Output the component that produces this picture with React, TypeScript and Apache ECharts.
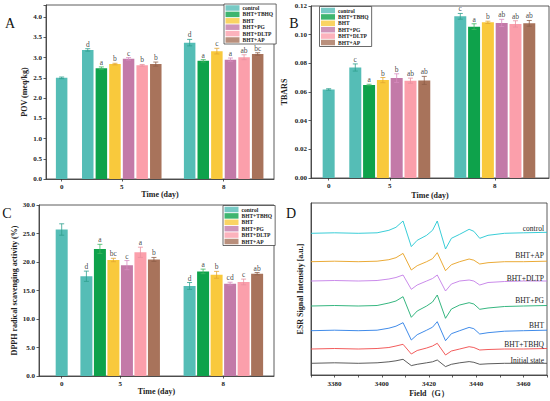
import React, { useEffect, useRef } from 'react';
import * as echarts from 'echarts';

const treatments = ['control', 'BHT+TBHQ', 'BHT', 'BHT+PG', 'BHT+DLTP', 'BHT+AP'];
const dayLabels = ['0', '5', '8'];
const barColors = ['#55bdb6', '#0ea24b', '#f9c93c', '#c37aa8', '#fb9fab', '#a8735b'];
const errColors = ['#2f9f8e', '#3fb862', '#e2a634', '#d88dc0', '#e9909f', '#8f6049'];

// POV (meq/kg)
const pov0 = [2.5];
const pov5 = [3.19, 2.74, 2.84, 2.97, 2.81, 2.84];
const pov8 = [3.37, 2.92, 3.16, 2.95, 3.01, 3.09];
const povErr0 = [0.02];
const povErr5 = [0.03, 0.03, 0.02, 0.03, 0.02, 0.05];
const povErr8 = [0.08, 0.03, 0.07, 0.04, 0.06, 0.03];
const povLet5 = ['d', 'a', 'b', 'c', 'b', 'b'];
const povLet8 = ['d', 'a', 'c', 'a', 'ab', 'bc'];

// TBARS
const tb0 = [0.0618];
const tb5 = [0.0771, 0.0649, 0.0683, 0.0697, 0.0679, 0.0681];
const tb8 = [0.1128, 0.1056, 0.1086, 0.1082, 0.1075, 0.1079];
const tbErr0 = [0.0005];
const tbErr5 = [0.0025, 0.0005, 0.0018, 0.003, 0.0018, 0.0028];
const tbErr8 = [0.002, 0.002, 0.0008, 0.0025, 0.0022, 0.002];
const tbLet5 = ['c', 'a', 'b', 'b', 'ab', 'ab'];
const tbLet8 = ['c', 'a', 'b', 'ab', 'ab', 'ab'];

// DPPH radical scavenging activity (%)
const dp0 = [25.7];
const dp5 = [17.5, 22.3, 20.35, 19.45, 21.7, 20.45];
const dp8 = [15.8, 18.35, 17.75, 16.2, 16.5, 17.95];
const dpErr0 = [1.0];
const dpErr5 = [0.9, 0.8, 0.3, 0.8, 0.9, 0.35];
const dpErr8 = [0.6, 0.4, 0.6, 0.25, 0.5, 0.2];
const dpLet5 = ['d', 'a', 'bc', 'c', 'a', 'b'];
const dpLet8 = ['d', 'a', 'b', 'cd', 'c', 'ab'];

// ESR spectra (field in G, intensity in a.u. with vertical offsets)
const esrField = [3370, 3380, 3390, 3398, 3403, 3406, 3409, 3412.5, 3415, 3419, 3421.5, 3423.5, 3427, 3429.5, 3433, 3437, 3439, 3441.5, 3445, 3452, 3460, 3470];
const esrControl = [141.7, 142.2, 141.7, 142.2, 144.7, 147.7, 154.0, 128.4, 134.7, 139.7, 144.7, 154.0, 126.0, 136.7, 140.7, 145.7, 143.7, 136.7, 139.7, 141.7, 142.2, 142.7];
const esrAP = [113.3, 113.8, 113.3, 113.8, 115.3, 117.3, 121.6, 105.0, 109.3, 113.3, 116.3, 122.3, 104.3, 110.3, 113.3, 116.0, 114.8, 111.0, 112.3, 113.3, 113.3, 113.8];
const esrDLTP = [94.0, 94.5, 94.0, 94.5, 96.0, 97.5, 100.0, 85.7, 90.0, 94.0, 96.5, 100.0, 84.0, 91.0, 94.0, 95.0, 94.0, 90.0, 92.5, 93.5, 94.0, 94.0];
const esrPG = [69.0, 69.5, 69.0, 69.5, 72.0, 74.0, 78.3, 57.7, 64.0, 69.0, 73.0, 80.0, 56.7, 66.0, 70.0, 72.3, 71.0, 65.7, 67.0, 68.5, 69.0, 69.5];
const esrBHT = [44.3, 44.8, 44.3, 44.8, 46.8, 48.8, 52.3, 35.0, 40.3, 44.8, 47.8, 53.3, 34.3, 41.3, 44.3, 47.6, 46.3, 41.0, 42.3, 43.8, 44.3, 44.8];
const esrTBHQ = [26.0, 26.5, 26.0, 26.5, 27.5, 29.0, 30.7, 21.0, 24.5, 27.0, 29.0, 31.7, 20.0, 24.0, 26.0, 28.3, 27.5, 25.0, 25.5, 26.0, 26.0, 26.5];
const esrInitial = [11.7, 12.2, 11.7, 12.2, 13.2, 14.2, 15.7, 9.4, 10.7, 12.2, 13.2, 15.0, 8.4, 10.7, 12.2, 13.4, 12.7, 10.7, 11.2, 11.7, 11.7, 11.7];
const esrNames = ['control', 'BHT+AP', 'BHT+DLTP', 'BHT+PG', 'BHT', 'BHT+TBHQ', 'Initial state'];
const esrColors = ['#22c7d3', '#e8a020', '#c47ee8', '#1fae72', '#2a7ee6', '#f04a4a', '#4a4a4a'];
const esrLabelY = [228.3, 255, 278.3, 300, 325, 344, 360];

const SERIF = '"Liberation Serif", "Times New Roman", serif';

const panels = [
  {
    grid: { left: 46, top: 5, width: 228, height: 174 },
    xMax: 16.76, centers: [1.15, 5.57, 13.06], barWidth: 11.5,
    yMax: 4.3, interval: 0.5, dec: 1, yName: 'POV (meq/kg)', yGap: 18, xGap: 10,
    v0: pov0, v5: pov5, v8: pov8, e0: povErr0, e5: povErr5, e8: povErr8, l5: povLet5, l8: povLet8,
    legend: { left: 224, top: 4 },
  },
  {
    grid: { left: 311, top: 6, width: 238, height: 172 },
    xMax: 17.25, centers: [1.28, 5.71, 13.32], barWidth: 12,
    yMax: 0.12, interval: 0.02, dec: 2, yName: 'TBARS', yGap: 23, xGap: 13,
    v0: tb0, v5: tb5, v8: tb8, e0: tbErr0, e5: tbErr5, e8: tbErr8, l5: tbLet5, l8: tbLet8,
    legend: { left: 319.5, top: 6.5 },
  },
  {
    grid: { left: 39, top: 205, width: 235, height: 171 },
    xMax: 17.4, centers: [1.68, 6.01, 13.65], barWidth: 12,
    yMax: 30, interval: 5, dec: 1, yName: 'DPPH radical scavenging activity (%)', yGap: 15, xGap: 11,
    v0: dp0, v5: dp5, v8: dp8, e0: dpErr0, e5: dpErr5, e8: dpErr8, l5: dpLet5, l8: dpLet8,
    legend: { left: 223, top: 205.5 },
  },
];

const axisColor = '#333';
const labelFont = { fontFamily: SERIF, fontWeight: 'bold' as const, fontSize: 7, color: '#222' };
const nameFont = { fontFamily: SERIF, fontWeight: 'bold' as const, fontSize: 8, color: '#222' };

function buildOption() {
  const grids: any[] = [];
  const xAxes: any[] = [];
  const yAxes: any[] = [];
  const series: any[] = [];
  const legends: any[] = [];

  // dummy series for legends
  treatments.forEach((t, i) => {
    series.push({ type: 'scatter', name: t, xAxisIndex: 0, yAxisIndex: 0, data: [], itemStyle: { color: barColors[i] } });
  });

  panels.forEach((p, k) => {
    grids.push({ ...p.grid, show: true, borderColor: axisColor, borderWidth: 0.8, containLabel: false });
    xAxes.push({
      type: 'value', gridIndex: k, min: 0, max: p.xMax,
      name: 'Time (day)', nameLocation: 'middle', nameGap: p.xGap, nameTextStyle: nameFont,
      axisLine: { show: true, lineStyle: { color: axisColor, width: 0.8 } },
      splitLine: { show: false },
      axisTick: { show: true, customValues: p.centers, length: 2.5, lineStyle: { color: axisColor, width: 0.8 } },
      axisLabel: {
        ...labelFont, margin: 4, customValues: p.centers,
        formatter: (v: number) => {
          const idx = p.centers.findIndex((c) => Math.abs(c - v) < 1e-6);
          return idx >= 0 ? dayLabels[idx] : '';
        },
      },
    });
    yAxes.push({
      type: 'value', gridIndex: k, min: 0, max: p.yMax, interval: p.interval,
      name: p.yName, nameLocation: 'middle', nameGap: p.yGap, nameTextStyle: nameFont,
      axisLine: { show: true, lineStyle: { color: axisColor, width: 0.8 } },
      splitLine: { show: false },
      axisTick: { show: true, length: 2.5, lineStyle: { color: axisColor, width: 0.8 } },
      axisLabel: {
        ...labelFont, margin: 4,
        formatter: (v: number) => {
          const r = v / p.interval;
          return Math.abs(r - Math.round(r)) < 1e-6 ? v.toFixed(p.dec) : '';
        },
      },
    });

    const barItems: any[] = [];
    const errItems: any[] = [];
    const errCol: string[] = [];
    const letterItems: any[] = [];
    p.v0.forEach((v, i) => {
      const x = p.centers[0];
      barItems.push({ value: [x, v], itemStyle: { color: barColors[i] } });
      errItems.push([x, v, p.e0[i]]);
      errCol.push(errColors[i]);
    });
    [[p.v5, p.e5, p.l5, p.centers[1]], [p.v8, p.e8, p.l8, p.centers[2]]].forEach(([vals, errs, lets, c]: any) => {
      (vals as number[]).forEach((v, i) => {
        const x = (c as number) + (i - 2.5);
        const e = (errs as number[])[i];
        barItems.push({ value: [x, v], itemStyle: { color: barColors[i] } });
        errItems.push([x, v, e]);
        errCol.push(errColors[i]);
        letterItems.push({ value: [x, v + e], name: (lets as string[])[i] });
      });
    });

    series.push({
      type: 'bar', xAxisIndex: k, yAxisIndex: k, barWidth: p.barWidth, data: barItems, silent: true,
    });
    series.push({
      type: 'custom', xAxisIndex: k, yAxisIndex: k, data: errItems, silent: true, z: 5,
      encode: { x: 0, y: 1 },
      renderItem: (params: any, api: any) => {
        const x = api.value(0), y = api.value(1), e = api.value(2);
        const top = api.coord([x, y + e]);
        const bot = api.coord([x, y - e]);
        const i = params.dataIndex;
        const stroke = errCol[i];
        const ls = { stroke, lineWidth: 0.8, fill: 'none' };
        return {
          type: 'group',
          children: [
            { type: 'line', shape: { x1: top[0], y1: top[1], x2: bot[0], y2: bot[1] }, style: ls },
            { type: 'line', shape: { x1: top[0] - 2.5, y1: top[1], x2: top[0] + 2.5, y2: top[1] }, style: ls },
            { type: 'line', shape: { x1: bot[0] - 2.5, y1: bot[1], x2: bot[0] + 2.5, y2: bot[1] }, style: ls },
          ],
        };
      },
    });
    series.push({
      type: 'scatter', xAxisIndex: k, yAxisIndex: k, data: letterItems, silent: true, z: 6,
      symbol: 'circle', symbolSize: 0.01, itemStyle: { color: 'rgba(0,0,0,0)' },
      label: {
        show: true, position: 'top', distance: 0.5, formatter: (prm: any) => prm.name,
        color: '#111', fontFamily: SERIF, fontSize: 7.5, fontWeight: 'normal',
      },
    });

    legends.push({
      ...p.legend, orient: 'vertical', data: treatments, icon: 'rect',
      itemWidth: 14, itemHeight: 5.5, itemGap: 0.4,
      padding: [1, 3, 1, 1.5], borderColor: '#444', borderWidth: 0.8, backgroundColor: '#fff',
      selectedMode: false,
      textStyle: { fontFamily: SERIF, fontWeight: 'bold', fontSize: 5.5, color: '#222', lineHeight: 6, padding: [0, 0, 0, -2] },
    });
  });

  // Panel D
  const kd = 3;
  grids.push({ left: 311, top: 203, width: 236, height: 172, show: true, borderColor: axisColor, borderWidth: 0.8 });
  xAxes.push({
    type: 'value', gridIndex: kd, min: 3370, max: 3470, interval: 10,
    name: 'Field（G）', nameLocation: 'middle', nameGap: 14, nameTextStyle: nameFont,
    axisLine: { show: true, lineStyle: { color: axisColor, width: 0.8 } },
    splitLine: { show: false },
    axisTick: { show: true, length: 2.5, lineStyle: { color: axisColor, width: 0.8 } },
    axisLabel: { ...labelFont, margin: 5, formatter: (v: number) => (v % 20 === 0 ? String(v) : '') },
  });
  yAxes.push({
    type: 'value', gridIndex: kd, min: 0, max: 172,
    name: 'ESR Signal Intensity [a.u.]', nameLocation: 'middle', nameGap: 7, nameTextStyle: nameFont,
    axisLine: { show: true, lineStyle: { color: axisColor, width: 0.8 } },
    splitLine: { show: false }, axisTick: { show: false }, axisLabel: { show: false },
  });
  const esrSets = [esrControl, esrAP, esrDLTP, esrPG, esrBHT, esrTBHQ, esrInitial];
  esrSets.forEach((arr, i) => {
    series.push({
      type: 'line', name: 'ESR ' + esrNames[i], xAxisIndex: kd, yAxisIndex: kd, showSymbol: false, symbol: 'none',
      silent: true, lineStyle: { color: esrColors[i], width: 0.9 },
      data: esrField.map((f, j) => [f, arr[j]]),
    });
  });

  const textStyle = (text: string, size: number) => ({
    text, font: `${size}px ${SERIF}`, fill: '#111', align: 'center', verticalAlign: 'middle',
  });
  const graphic: any[] = [
    { type: 'text', x: 10, y: 23, style: textStyle('A', 14), silent: true },
    { type: 'text', x: 294, y: 23, style: textStyle('B', 14), silent: true },
    { type: 'text', x: 7, y: 213, style: textStyle('C', 14), silent: true },
    { type: 'text', x: 291, y: 213, style: textStyle('D', 14), silent: true },
  ];
  esrNames.forEach((n, i) => {
    graphic.push({
      type: 'text', x: 544, y: esrLabelY[i], silent: true, z: 10,
      style: { text: n, font: `7.5px ${SERIF}`, fill: '#222', align: 'right', verticalAlign: 'middle' },
    });
  });

  return {
    animation: false,
    backgroundColor: '#fff',
    grid: grids,
    xAxis: xAxes,
    yAxis: yAxes,
    legend: legends,
    series,
    graphic,
  };
}

export default function App() {
  const ref = useRef<HTMLDivElement>(null);
  useEffect(() => {
    if (!ref.current) return;
    const chart = echarts.init(ref.current, undefined, { renderer: 'svg' });
    chart.setOption(buildOption() as any);
    return () => chart.dispose();
  }, []);
  return <div ref={ref} style={{ position: 'fixed', left: 0, top: 0, width: 550, height: 401 }} />;
}
